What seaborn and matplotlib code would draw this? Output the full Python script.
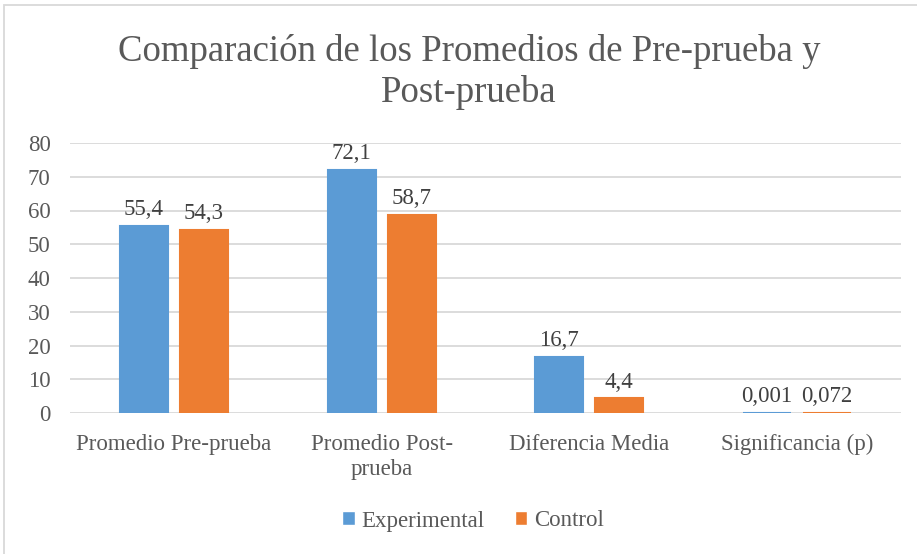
import pandas as pd
import matplotlib.pyplot as plt
import matplotlib.patches as mpatches
import seaborn as sns

# Data
categorias = ["Promedio Pre-prueba", "Promedio Post-\nprueba", "Diferencia Media", "Significancia (p)"]
experimental = [55.4, 72.1, 16.7, 0.001]
control = [54.3, 58.7, 4.4, 0.072]
etiquetas_exp = ["55,4", "72,1", "16,7", "0,001"]
etiquetas_ctl = ["54,3", "58,7", "4,4", "0,072"]
grupos = ["Experimental", "Control"]

data = pd.DataFrame({
    "Categoria": categorias * 2,
    "Valor": experimental + control,
    "Grupo": [grupos[0]] * 4 + [grupos[1]] * 4,
})

sns.set_theme(style="white")
plt.rcParams["font.family"] = ["Liberation Serif", "DejaVu Serif"]

fig = plt.figure(figsize=(9.17, 5.54), dpi=100)
ax = fig.add_axes([70 / 917, 1 - 413 / 554, 831 / 917, 270 / 554])

colores = ["#5B9BD5", "#ED7D31"]
ax = sns.barplot(data=data, x="Categoria", y="Valor", hue="Grupo",
                 palette=colores, width=0.577, gap=0.2,
                 saturation=1, ax=ax, legend=True)
for cont, c in zip(ax.containers, colores):
    for b in cont:
        b.set_edgecolor(c)
        b.set_linewidth(1.5)

ax.set_ylim(0, 80)
ax.set_yticks(range(0, 81, 10))
ax.set_xlim(-0.5, 3.5)
ax.grid(axis="y", color="#d9d9d9", linewidth=1.3)
ax.set_axisbelow(True)
for s in ax.spines.values():
    s.set_visible(False)
ax.tick_params(axis="y", length=0, pad=14, labelsize=16.5, labelcolor="#595959")
ax.tick_params(axis="x", length=0, pad=15, labelsize=16.5, labelcolor="#595959")
for t in ax.get_xticklabels():
    t.set_linespacing(1.25)
ax.set_xlabel("")
ax.set_ylabel("")

ax.bar_label(ax.containers[0], labels=etiquetas_exp, padding=4, fontsize=16.5, color="#404040")
ax.bar_label(ax.containers[1], labels=etiquetas_ctl, padding=4, fontsize=16.5, color="#404040")

fig.text(469 / 917, 1 - 72 / 554, "Comparación de los Promedios de Pre-prueba y\nPost-prueba",
         ha="center", va="center", fontsize=26.5, color="#595959", linespacing=1.2)

ax.legend(loc="center", bbox_to_anchor=(473 / 917, 1 - 521 / 554), bbox_transform=fig.transFigure,
          ncol=2, frameon=False, fontsize=16.5, labelcolor="#595959",
          handlelength=0.55, handleheight=0.55, handletextpad=0.3, columnspacing=1.3)

# chart frame
fig.patches.append(mpatches.Rectangle((4 / 917, -0.1), 1.2, 1 - 5 / 554 + 0.1, transform=fig.transFigure,
                                      fill=False, edgecolor="#d9d9d9", linewidth=1.3))

fig.savefig("out.png", dpi=100)
